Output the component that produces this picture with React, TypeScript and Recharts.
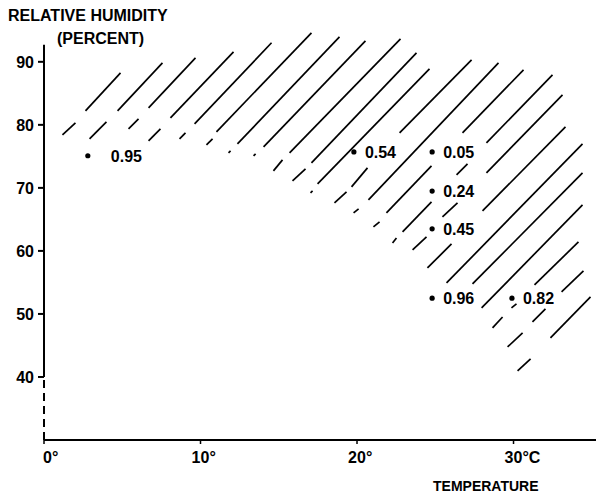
import React from 'react';
import { ComposedChart, ReferenceLine, Scatter, XAxis, YAxis } from 'recharts';

// measured points: temperature (°C), relative humidity (%), value printed beside each
const tempC = [2.8, 19.8, 24.8, 24.8, 24.8, 24.8, 29.9];
const humidityPct = [75.1, 75.7, 75.7, 69.5, 63.5, 52.5, 52.5];
const pointLabels = ['0.95', '0.54', '0.05', '0.24', '0.45', '0.96', '0.82'];

const xTicks = [0, 10, 20, 30];
const yTicks = [40, 50, 60, 70, 80, 90];

// hatching strokes, [t1, rh1, t2, rh2]
const hatch: number[][] = [
  [2.65, 82.22, 4.89, 88.25],
  [1.18, 78.41, 2.01, 80.32],
  [4.7, 82.22, 7.57, 89.84],
  [2.91, 77.78, 3.99, 80.48],
  [6.68, 82.7, 9.68, 90.63],
  [5.4, 79.37, 6.04, 80.95],
  [8.08, 81.11, 12.11, 91.59],
  [6.68, 77.46, 7.44, 79.37],
  [9.62, 80.16, 14.54, 93.02],
  [8.66, 77.78, 9.04, 78.73],
  [11.02, 78.89, 17.09, 94.6],
  [10.38, 76.83, 10.77, 77.78],
  [12.36, 76.98, 18.88, 93.97],
  [11.79, 75.56, 11.92, 75.87],
  [14.03, 76.51, 20.54, 93.33],
  [13.39, 75.08, 13.52, 75.4],
  [15.69, 75.56, 22.78, 93.65],
  [14.66, 72.7, 15.24, 74.44],
  [17.09, 73.97, 23.8, 91.43],
  [15.88, 71.11, 16.71, 73.02],
  [17.48, 70.63, 24.63, 88.89],
  [17.03, 69.21, 17.16, 69.52],
  [22.72, 78.73, 27.32, 90.32],
  [19.65, 70.16, 20.67, 73.17],
  [18.56, 67.62, 19.33, 69.37],
  [20.73, 68.1, 29.04, 89.84],
  [19.78, 66.03, 20.1, 66.67],
  [26.74, 78.73, 30.64, 88.73],
  [21.88, 66.03, 24.76, 73.49],
  [21.05, 63.81, 21.44, 64.6],
  [28.27, 77.14, 32.49, 87.94],
  [26.36, 72.06, 27.06, 73.81],
  [22.91, 63.02, 24.76, 67.78],
  [22.27, 61.27, 22.52, 62.06],
  [28.27, 72.38, 33.13, 84.76],
  [25.46, 65.4, 26.42, 67.62],
  [23.55, 60.16, 24.44, 62.22],
  [28.02, 66.35, 33.32, 79.68],
  [24.5, 57.3, 26.04, 61.11],
  [25.72, 54.92, 34.41, 76.98],
  [27.38, 54.76, 34.41, 72.38],
  [27.96, 50.95, 34.41, 67.3],
  [31.34, 54.6, 34.15, 61.43],
  [29.87, 50.95, 30.19, 51.59],
  [28.66, 47.78, 29.3, 49.52],
  [33.07, 53.49, 34.47, 56.83],
  [31.21, 48.73, 32.04, 50.79],
  [29.62, 44.76, 30.58, 46.98],
  [32.36, 46.19, 34.92, 52.7],
  [30.26, 40.95, 31.09, 42.86],
];

const FONT = '"Liberation Sans", Arial, sans-serif';

const points = tempC.map((t, i) => ({ t, rh: humidityPct[i], label: pointLabels[i] }));

function XTick({ x, y, payload }: any) {
  const v = payload.value;
  const text = v === 30 ? '30°C' : `${v}°`;
  // digits sit centred on the tick, degree sign hangs to the right
  const startX = v === 0 ? x - 1 : x - (String(v).length * 8.9) / 2;
  return (
    <text x={startX} y={y} dy={17} fontFamily={FONT} fontWeight="bold" fontSize={16} fill="#000">
      {text}
    </text>
  );
}

function YTick({ x, y, payload }: any) {
  return (
    <text x={x - 2} y={y} dy={6} textAnchor="end" fontFamily={FONT} fontWeight="bold" fontSize={16} fill="#000">
      {payload.value}
    </text>
  );
}

function LabelledDot({ cx, cy, payload }: any) {
  const gap = payload.label === '0.95' ? 23 : 11;
  return (
    <g>
      <circle cx={cx} cy={cy} r={2.6} fill="#000" />
      <text x={cx + gap} y={cy + 6} fontFamily={FONT} fontWeight="bold" fontSize={16} fill="#000">
        {payload.label}
      </text>
    </g>
  );
}

export default function App() {
  return (
    <div style={{ position: 'absolute', left: 0, top: 0, width: 596, height: 497, background: '#fff' }}>
      <ComposedChart width={596} height={497} data={points} margin={{ top: 24, right: 0, bottom: 0, left: 0 }}>
        <XAxis
          type="number"
          dataKey="t"
          domain={[0, 35.27]}
          ticks={xTicks}
          interval={0}
          allowDataOverflow
          height={57}
          axisLine={{ stroke: '#000', strokeWidth: 2 }}
          tickLine={{ stroke: '#000', strokeWidth: 1.5 }}
          tickSize={4}
          tick={<XTick />}
        />
        <YAxis
          type="number"
          dataKey="rh"
          domain={[30, 96]}
          ticks={yTicks}
          interval={0}
          allowDataOverflow
          width={44}
          axisLine={false}
          tickLine={{ stroke: '#000', strokeWidth: 2 }}
          tickSize={6}
          tick={<YTick />}
        />
        <ReferenceLine
          segment={[{ x: 0, y: 40 }, { x: 0, y: 92.7 }]}
          stroke="#000"
          strokeWidth={2}
          ifOverflow="visible"
        />
        <ReferenceLine
          segment={[{ x: 0, y: 30 }, { x: 0, y: 40 }]}
          stroke="#000"
          strokeWidth={2}
          strokeDasharray="8 5"
          ifOverflow="visible"
        />
        {hatch.map((s, i) => (
          <ReferenceLine
            key={i}
            segment={[{ x: s[0], y: s[1] }, { x: s[2], y: s[3] }]}
            stroke="#000"
            strokeWidth={1.7}
            ifOverflow="visible"
          />
        ))}
        <Scatter dataKey="rh" fill="#000" shape={<LabelledDot />} isAnimationActive={false} />
      </ComposedChart>
      <svg width={596} height={497} style={{ position: 'absolute', left: 0, top: 0, pointerEvents: 'none' }}>
        <text x={8} y={21} fontFamily={FONT} fontWeight="bold" fontSize={16} fill="#000">
          RELATIVE HUMIDITY
        </text>
        <text x={57} y={44} fontFamily={FONT} fontWeight="bold" fontSize={16} fill="#000">
          (PERCENT)
        </text>
        <text x={433} y={491} fontFamily={FONT} fontWeight="bold" fontSize={14} fill="#000">
          TEMPERATURE
        </text>
      </svg>
    </div>
  );
}
